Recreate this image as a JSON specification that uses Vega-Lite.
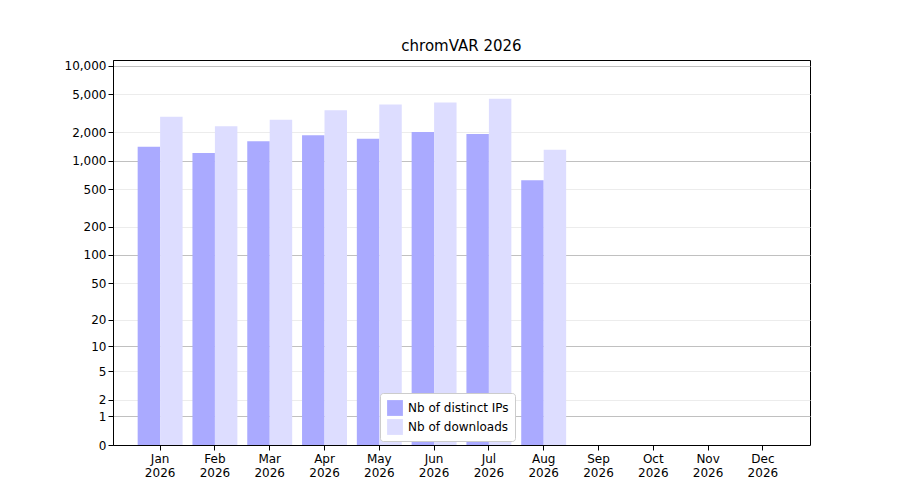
{
  "$schema": "https://vega.github.io/schema/vega-lite/v6.json",
  "autosize": "none",
  "width": 697,
  "height": 385,
  "padding": {"left": 113, "top": 60, "right": 90, "bottom": 55},
  "background": "white",
  "config": {"font": "DejaVu Sans", "view": {"stroke": "black"}},
  "title": {"text": "chromVAR 2026", "fontSize": 15, "fontWeight": "normal", "offset": 6, "color": "black"},
  "data": {"values": [
    {"month": "Jan 2026", "series": "Nb of distinct IPs", "value": 1400},
    {"month": "Jan 2026", "series": "Nb of downloads", "value": 2900},
    {"month": "Feb 2026", "series": "Nb of distinct IPs", "value": 1200},
    {"month": "Feb 2026", "series": "Nb of downloads", "value": 2300},
    {"month": "Mar 2026", "series": "Nb of distinct IPs", "value": 1600},
    {"month": "Mar 2026", "series": "Nb of downloads", "value": 2700},
    {"month": "Apr 2026", "series": "Nb of distinct IPs", "value": 1850},
    {"month": "Apr 2026", "series": "Nb of downloads", "value": 3400},
    {"month": "May 2026", "series": "Nb of distinct IPs", "value": 1700},
    {"month": "May 2026", "series": "Nb of downloads", "value": 3900},
    {"month": "Jun 2026", "series": "Nb of distinct IPs", "value": 2000},
    {"month": "Jun 2026", "series": "Nb of downloads", "value": 4100},
    {"month": "Jul 2026", "series": "Nb of distinct IPs", "value": 1900},
    {"month": "Jul 2026", "series": "Nb of downloads", "value": 4500},
    {"month": "Aug 2026", "series": "Nb of distinct IPs", "value": 620},
    {"month": "Aug 2026", "series": "Nb of downloads", "value": 1300}
  ]},
  "mark": {"type": "bar"},
  "encoding": {
    "x": {
      "field": "month", "type": "nominal", "title": null,
      "scale": {"domain": ["Jan 2026","Feb 2026","Mar 2026","Apr 2026","May 2026","Jun 2026","Jul 2026","Aug 2026","Sep 2026","Oct 2026","Nov 2026","Dec 2026"], "paddingInner": 0.18, "paddingOuter": 0.45},
      "axis": {"labelAngle": 0, "labelExpr": "split(datum.value, ' ')", "labelFontSize": 12, "labelColor": "black", "domainColor": "black", "tickColor": "black", "labelPadding": 3}
    },
    "xOffset": {"field": "series", "type": "nominal"},
    "y": {
      "field": "value", "type": "quantitative", "title": null,
      "scale": {"type": "symlog", "constant": 1, "domain": [0, 11500], "nice": false},
      "axis": {
        "values": [0,1,2,5,10,20,50,100,200,500,1000,2000,5000,10000],
        "labelFontSize": 12, "labelColor": "black", "domainColor": "black", "tickColor": "black",
        "grid": true,
        "gridColor": {"condition": {"test": "indexof([1,10,100,1000,10000], datum.value) >= 0", "value": "#c0c0c0"}, "value": "#ececec"}
      }
    },
    "color": {
      "field": "series", "type": "nominal",
      "scale": {"domain": ["Nb of distinct IPs", "Nb of downloads"], "range": ["#aaaaff", "#ddddff"]},
      "legend": {"title": null, "orient": "none", "legendX": 267, "legendY": 333, "labelFontSize": 12, "symbolType": "square", "symbolSize": 250, "fillColor": "white", "strokeColor": "#cccccc", "padding": 6, "cornerRadius": 3, "labelColor": "black"}
    }
  }
}
